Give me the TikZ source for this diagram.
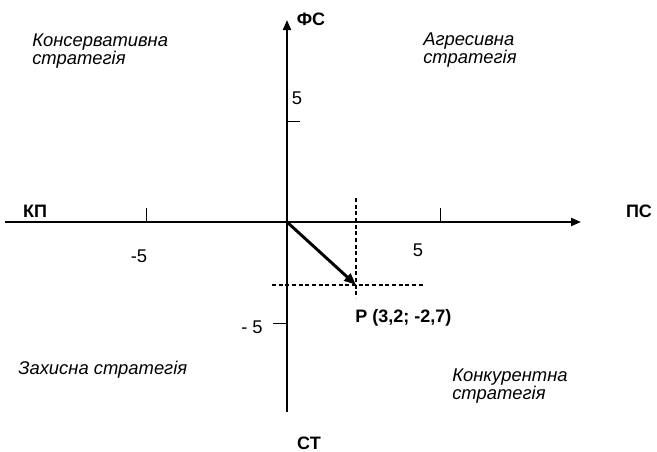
\documentclass[tikz,border=0pt]{standalone}
\usepackage{fontspec}
\setmainfont{Liberation Sans}
\usetikzlibrary{arrows.meta}
\tikzset{
  axislabel/.style={font=\fontsize{13.5}{15}\selectfont\bfseries},
  strategy/.style={font=\fontsize{13.8}{13}\selectfont\itshape,align=left,anchor=north west,inner sep=0pt},
  guide/.style={line width=0.8pt,dash pattern=on 3pt off 2pt},
}
\begin{document}
\begin{tikzpicture}[x=0.75pt,y=-0.75pt,>={Triangle[length=7.5pt,width=6pt]},line join=round,font=\fontsize{13.8}{15}\selectfont]
	\useasboundingbox (0,0) rectangle (657,451);
	\coordinate (O) at (287,222);
	\coordinate (xl) at (5,222);
	\coordinate (xr) at (581,222);
	\coordinate (yb) at (287,412);
	\coordinate (yt) at (287,20);
	\coordinate (P) at (356,285);
	\draw[line width=1.5pt,->] (xl)--(xr);
	\draw[line width=1.5pt,->] (yb)--(yt);
	\draw[line width=0.6pt] (146,208)--(146,222) (440,208)--(440,222) (287,121)--(300,121) (273,323)--(287,323);
	\node[axislabel] (fs) at (311,19) {ФС};
	\node[axislabel] (kp) at (35,211) {КП};
	\node[axislabel] (ps) at (639,211) {ПС};
	\node[axislabel,inner sep=0pt,anchor=base] (st) at (309,449) {СТ};
	\node (xp5) at (418,250) {5};
	\node (xm5) at (139,256) {-5};
	\node (yp5) at (297,98) {5};
	\node (ym5) at (252,327) {- 5};
	\draw[guide] (356,198)--(356,298) (272,285)--(423,285);
	\draw[line width=2.2pt,-{Triangle[length=9pt,width=7pt]}] (O)--(P);
	\node[axislabel,anchor=west,inner sep=0pt] (plabel) at (355,318) {P (3,2; -2,7)};
	\node[strategy] (cons) at (32,34) {Консервативна\\стратегія};
	\node[strategy] (aggr) at (423,33) {Агресивна\\стратегія};
	\node[strategy] (prot) at (18,361) {Захисна стратегія};
	\node[strategy] (comp) at (452,369) {Конкурентна\\стратегія};
\end{tikzpicture}
\end{document}
